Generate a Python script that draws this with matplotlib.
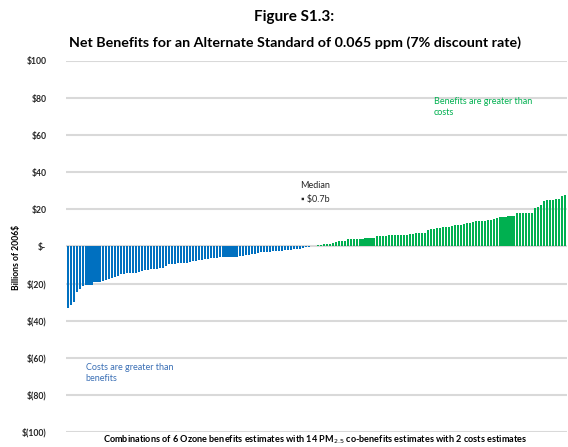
import numpy as np
import matplotlib
matplotlib.use("Agg")
import matplotlib.pyplot as plt

plt.rcParams['font.family'] = ['Lato', 'DejaVu Sans']

# Net benefits (billions of 2006$), sorted, 6 x 14 x 2 = 168 combinations
net_benefits = [
    -33.4, -31.8, -30.2, -24.8, -23.0, -21.4, -20.8, -20.5, -20.5, -19.2,
    -18.9, -18.9, -18.8, -18.2, -17.6, -17.1, -16.3, -15.8, -15.1, -14.8,
    -14.4, -14.2, -14.2, -14.1, -13.8, -13.3, -12.9, -12.5, -12.2, -12.0,
    -12.0, -11.8, -11.5, -10.5, -9.4, -9.3, -9.2, -9.0, -8.9, -8.8,
    -8.7, -8.5, -8.0, -7.7, -7.4, -7.1, -6.8, -6.5, -6.4, -6.2,
    -6.0, -5.9, -5.8, -5.7, -5.6, -5.6, -5.5, -5.5, -5.4, -5.2,
    -4.6, -4.4, -4.2, -4.0, -3.6, -3.2, -3.0, -2.9, -2.8, -2.6,
    -2.5, -2.3, -2.2, -2.1, -2.0, -1.9, -1.6, -1.4, -1.1, -0.6,
    -0.3, -0.1, 0.2, 0.5, 0.9, 0.8, 1.1, 1.2, 1.6, 2.0,
    2.2, 2.8, 2.9, 3.0, 3.9, 4.0, 4.1, 4.1, 4.2, 4.2,
    4.3, 4.6, 4.7, 4.8, 5.6, 5.8, 5.9, 5.9, 6.0, 6.0,
    6.0, 6.0, 6.0, 6.1, 6.4, 6.5, 6.6, 7.0, 7.0, 7.1,
    7.1, 8.8, 9.3, 9.6, 9.7, 9.8, 10.5, 10.6, 10.7, 10.8,
    11.4, 11.6, 11.8, 12.2, 12.4, 12.8, 13.0, 13.8, 14.0, 14.0,
    14.0, 14.1, 14.3, 14.6, 15.6, 15.8, 15.9, 16.0, 16.3, 16.4,
    16.5, 18.0, 18.2, 18.2, 18.2, 18.3, 18.3, 20.5, 21.2, 22.6,
    24.5, 25.3, 25.3, 25.3, 25.4, 25.6, 27.1, 28.0,
]
yticks = [100, 80, 60, 40, 20, 0, -20, -40, -60, -80, -100]
ytick_labels = ['$100', '$80', '$60', '$40', '$20', '$-', '$(20)', '$(40)',
                '$(60)', '$(80)', '$(100)']

blue = '#0070C0'
green = '#00B050'
colors = [blue if v < 0 else green for v in net_benefits]

fig = plt.figure(figsize=(5.68, 4.47), dpi=100)
ax = fig.add_axes([0.116, 0.0336, 0.882, 0.83])

ax.bar(np.arange(len(net_benefits)), net_benefits, width=0.7, color=colors, zorder=3)
ax.set_xlim(-0.6, len(net_benefits) - 0.4)
ax.set_ylim(-100, 100)
ax.set_yticks(yticks)
ax.set_yticklabels(ytick_labels, fontsize=6.2, fontweight='bold', color='#262626')
ax.set_xticks([])
ax.tick_params(axis='y', length=0, pad=14)
ax.grid(axis='y', color='#D9D9D9', linewidth=1.5, zorder=0)
for s in ax.spines.values():
    s.set_visible(False)

ax.set_ylabel('Billions of 2006$', fontsize=6.2, fontweight='bold', labelpad=12)
ax.yaxis.set_label_coords(-0.09, 0.47)

fig.text(0.518, 0.962, 'Figure S1.3:', ha='center', va='center',
         fontsize=11, fontweight='bold')
fig.text(0.52, 0.904, 'Net Benefits for an Alternate Standard of 0.065 ppm (7% discount rate)',
         ha='center', va='center', fontsize=10.3, fontweight='bold')
fig.text(0.555, 0.016,
         'Combinations of 6 Ozone benefits estimates with 14 PM$_{2.5}$ co-benefits estimates with 2 costs estimates',
         ha='center', va='center', fontsize=6.6, fontweight='bold')

ax.text(83, 33, 'Median', ha='center', va='center', fontsize=6.5, color='#262626')
ax.text(83, 25.5, '\u25aa $0.7b', ha='center', va='center', fontsize=6.5, color='#262626')
ax.text(123, 75, 'Benefits are greater than\ncosts', ha='left', va='center',
        fontsize=6.5, color=green, linespacing=1.3)
ax.text(6, -68, 'Costs are greater than\nbenefits', ha='left', va='center',
        fontsize=6.5, color='#3A6FB5', linespacing=1.3)

fig.savefig('out.png', dpi=100)
